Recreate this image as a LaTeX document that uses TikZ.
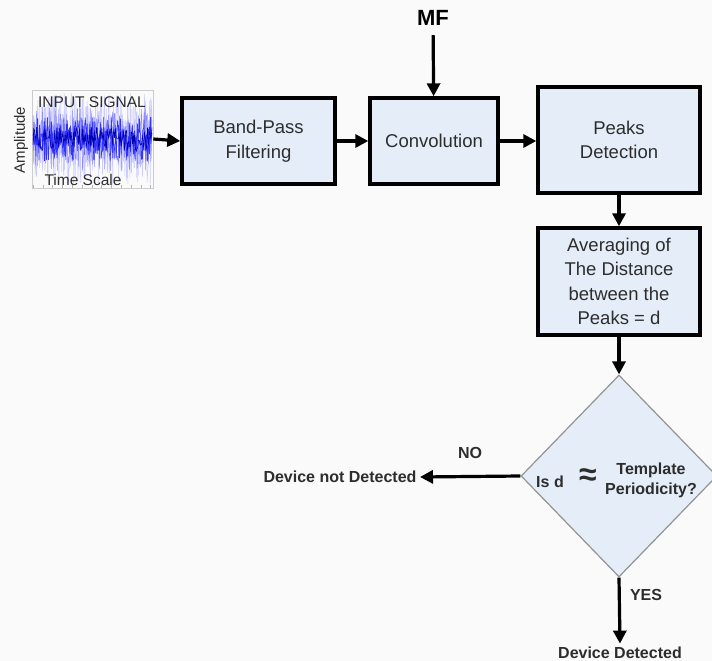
\documentclass[tikz,border=0pt]{standalone}
\usepackage{fontspec}
\setmainfont{Liberation Sans}
\usetikzlibrary{shapes.geometric,arrows.meta}
\definecolor{boxfill}{RGB}{228,237,248}
\definecolor{pagebg}{RGB}{250,250,250}
\definecolor{txtgray}{RGB}{45,45,45}

\begin{document}
\begin{tikzpicture}[x=1pt,y=-1pt,>={Triangle[length=13pt,width=13pt]},
  blk/.style={draw,line width=3.4pt,fill=boxfill,align=center,text=txtgray,
    font=\fontsize{18.5}{24.5}\selectfont},
  dia/.style={diamond,draw=gray!85,line width=1.2pt,fill=boxfill,inner sep=0pt},
  arr/.style={->,line width=3.2pt},
  lbl/.style={font=\fontsize{16}{20}\selectfont\bfseries,text=txtgray,align=center}]
  \useasboundingbox[fill=pagebg] (0,0) rectangle (712,661);

  \node[draw=gray!40,line width=0.6pt,minimum width=121pt,minimum height=98pt,inner sep=0pt] (sig) at (92.5,139) {};
  \begin{scope}
    \clip (32,91) rectangle (153,187);
    \pgfmathsetseed{11}
    \draw[blue!20,line width=0.5pt] plot[domain=33:152,samples=340] (\x,{139+46*rand});
    \draw[blue!45,line width=0.5pt] plot[domain=33:152,samples=300] (\x,{139+32*rand});
    \draw[blue!80,line width=0.6pt] plot[domain=33:152,samples=240] (\x,{139+22*rand});
    \draw[blue!70!black,line width=0.6pt] plot[domain=33:152,samples=160] (\x,{139+12*rand});
  \end{scope}
  \foreach \t in {0,...,12}
    \draw[gray!60] (33+9.8*\t,188) -- ++(0,-3);
  \node[text=txtgray,font=\fontsize{15.5}{18}\selectfont] (ttl) at (92,102) {INPUT SIGNAL};
  \node[text=txtgray,font=\fontsize{15.5}{18}\selectfont] (tsc) at (83,180) {Time Scale};
  \node[text=txtgray,font=\fontsize{15}{18}\selectfont,rotate=90] (amp) at (21,140) {Amplitude};

  \node[blk,minimum width=153pt,minimum height=86pt] (bpf) at (258.5,141) {Band-Pass\\Filtering};
  \node[blk,minimum width=128pt,minimum height=86pt] (conv) at (434,141) {Convolution};
  \node[blk,minimum width=162pt,minimum height=106pt] (peaks) at (619,140) {Peaks\\Detection};
  \node[blk,minimum width=162pt,minimum height=107pt] (avg) at (619,281.5) {Averaging of\\The Distance\\between the\\Peaks = d};
  \node[font=\fontsize{22}{26}\selectfont\bfseries] (mf) at (433,18) {MF};
  \node[dia,minimum width=196pt,minimum height=202pt] (dec) at (619,476) {};
  \node[lbl] (isd) at (550,482) {Is d};
  \node[font=\fontsize{32}{32}\selectfont\bfseries,text=txtgray] (apx) at (588,477) {≈};
  \node[lbl] (tpl) at (651,480) {Template\\Periodicity?};
  \node[lbl] (nodet) at (340,477) {Device not Detected};
  \node[lbl] (det) at (620,653) {Device Detected};
  \node[lbl] (no) at (470,453) {NO};
  \node[lbl] (yes) at (646,595) {YES};

  \draw[arr] (sig.east) -- (bpf.west);
  \draw[arr] (bpf) -- (conv);
  \draw[arr] (conv.east) -- (conv.east -| peaks.west);
  \draw[arr,shorten <=6pt] (mf) -- (conv);
  \draw[arr] (peaks) -- (avg);
  \draw[arr] (avg) -- (dec);
  \draw[arr] (dec.west) -- (nodet.east);
  \draw[arr] (dec.south) -- (det.north);
\end{tikzpicture}
\end{document}
